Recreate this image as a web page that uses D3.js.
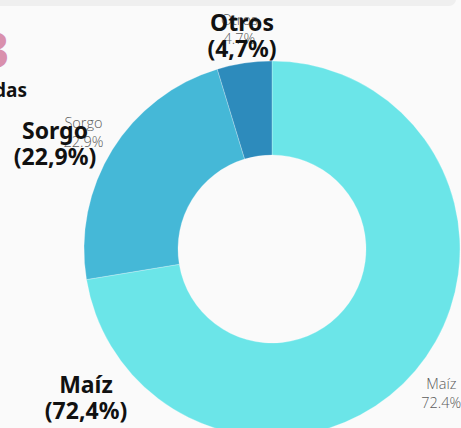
<!DOCTYPE html>
<html>
<head>
<meta charset="utf-8">
<script src="https://cdn.jsdelivr.net/npm/d3@7"></script>
<style>
  html, body { margin: 0; padding: 0; background: #fafafa; overflow: hidden; }
</style>
</head>
<body>
<script>
var cultivos = ["Maíz", "Sorgo", "Otros"];
var porcentajes = [72.4, 22.9, 4.7];
var colores = ["#6be5e8", "#45b8d7", "#2d8bbc"];
var etiquetasGrandes = ["Maíz\n(72,4%)", "Sorgo\n(22,9%)", "Otros\n(4,7%)"];
var etiquetasChicas = ["72.4%", "22.9%", "4.7%"];

var width = 461, height = 428;

var svg = d3.select("body").append("svg")
    .attr("width", width)
    .attr("height", height);

// fondo y tarjeta superior cortada
svg.append("rect")
    .attr("width", width)
    .attr("height", height)
    .attr("fill", "#fafafa");

svg.append("rect")
    .attr("x", -20)
    .attr("y", -30)
    .attr("width", 476)
    .attr("height", 36)
    .attr("rx", 7)
    .attr("fill", "#efefef");

// restos del título a la izquierda
svg.append("text")
    .attr("x", 9)
    .attr("y", 68)
    .attr("text-anchor", "end")
    .attr("font-family", "Noto Sans")
    .attr("font-weight", 700)
    .attr("font-size", 48)
    .attr("fill", "#d990ad")
    .text("3");

svg.append("text")
    .attr("x", 27)
    .attr("y", 97)
    .attr("text-anchor", "end")
    .attr("font-family", "Noto Sans")
    .attr("font-weight", 700)
    .attr("font-size", 19)
    .attr("fill", "#111")
    .text("das");

var cx = 272, cy = 249;
var outerR = 188, innerR = 94, labelR = 222;

var pie = d3.pie().sort(null).value(function (d) { return d; });
var arcs = pie(porcentajes);

var arc = d3.arc().innerRadius(innerR).outerRadius(outerR);
var labelArc = d3.arc().innerRadius(labelR).outerRadius(labelR);

var g = svg.append("g").attr("transform", "translate(" + cx + "," + cy + ")");

g.selectAll("path")
    .data(arcs)
    .enter().append("path")
    .attr("d", arc)
    .attr("fill", function (d, i) { return colores[i]; })
    .attr("stroke", "#ffffff")
    .attr("stroke-opacity", 0.5)
    .attr("stroke-width", 0.5);

// etiquetas pequeñas grises
var chicas = g.selectAll("text.chica")
    .data(arcs)
    .enter().append("text")
    .attr("class", "chica")
    .attr("transform", function (d) {
        var c = labelArc.centroid(d);
        return "translate(" + c[0] + "," + c[1] + ")";
    })
    .attr("text-anchor", "middle")
    .attr("font-family", "Open Sans")
    .attr("font-weight", 300)
    .attr("font-size", 14.5)
    .attr("fill", "#5a5a5a");

chicas.append("tspan")
    .attr("x", 0)
    .attr("dy", -4)
    .text(function (d, i) { return cultivos[i]; });
chicas.append("tspan")
    .attr("x", 0)
    .attr("dy", 19)
    .text(function (d, i) { return etiquetasChicas[i]; });

// etiquetas grandes en negrita
var posGrandes = [[86, 393], [55, 139], [242, 31]];

var grandes = svg.selectAll("text.grande")
    .data(etiquetasGrandes)
    .enter().append("text")
    .attr("class", "grande")
    .attr("transform", function (d, i) {
        return "translate(" + posGrandes[i][0] + "," + posGrandes[i][1] + ")";
    })
    .attr("text-anchor", "middle")
    .attr("font-family", "Noto Sans")
    .attr("font-weight", 700)
    .attr("font-size", 23)
    .attr("fill", "#111");

grandes.each(function (d) {
    var lines = d.split("\n");
    var t = d3.select(this);
    lines.forEach(function (l, j) {
        t.append("tspan")
            .attr("x", 0)
            .attr("dy", j === 0 ? 0 : 26)
            .text(l);
    });
});
</script>
</body>
</html>
